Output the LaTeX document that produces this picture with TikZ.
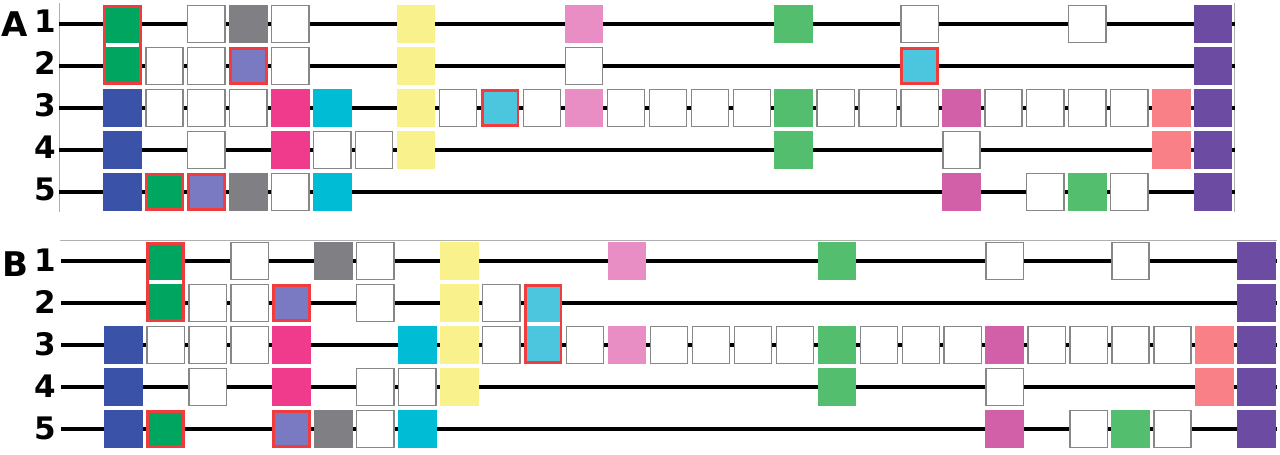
\documentclass[tikz,border=0pt]{standalone}
\usepackage{fontspec}
\setmainfont{DejaVu Sans}
\usetikzlibrary{fit}
\definecolor{cgrnR}{RGB}{0,166,96}
\definecolor{cgrnL}{RGB}{82,190,110}
\definecolor{cgray}{RGB}{128,128,132}
\definecolor{cslate}{RGB}{122,122,194}
\definecolor{cblue}{RGB}{58,82,168}
\definecolor{cmag}{RGB}{240,58,140}
\definecolor{ccyan}{RGB}{0,188,212}
\definecolor{ccyanR}{RGB}{76,198,222}
\definecolor{cyel}{RGB}{249,242,140}
\definecolor{cpink}{RGB}{232,142,196}
\definecolor{corch}{RGB}{210,96,168}
\definecolor{csal}{RGB}{250,128,136}
\definecolor{cpur}{RGB}{108,76,162}
\definecolor{redb}{RGB}{240,60,60}
\definecolor{boxgray}{RGB}{135,135,135}
\definecolor{framegray}{RGB}{175,175,175}
\begin{document}
\begin{tikzpicture}[x=1pt,y=-1pt,
  rowline/.style={line width=3.4pt, black},
  frameline/.style={line width=1pt, framegray},
  base/.style={rectangle, inner sep=0pt, outer sep=0pt},
  wbox/.style={base, minimum width=37.2pt, minimum height=37.2pt, fill=white, draw=boxgray, line width=1.3pt},
  cbox/.style={base, minimum width=38.5pt, minimum height=38.5pt},
  rbox/.style={base, minimum width=35.7pt, minimum height=35.7pt, draw=redb, line width=2.8pt},
  rframe/.style={base, draw=redb, line width=2.8pt, inner sep=-1.4pt},
  lbl/.style={font=\fontsize{31}{31}\selectfont\bfseries, anchor=east, inner sep=0pt},
  letter/.style={font=\fontsize{34}{34}\selectfont\bfseries, inner sep=0pt}
]
\useasboundingbox (0,0) rectangle (1280,455);

% ---------------- Panel A ----------------
\coordinate (Afl1) at (59.5,3); \coordinate (Afl2) at (59.5,212);
\coordinate (Afr1) at (1234.5,3); \coordinate (Afr2) at (1234.5,212);
\draw[frameline] (Afl1) -- (Afl2);
\draw[frameline] (Afr1) -- (Afr2);
\foreach \r in {1,...,5}{
  \coordinate (As\r) at (59,{24+42*(\r-1)});
  \coordinate (Ae\r) at (1235,{24+42*(\r-1)});
  \draw[rowline] (As\r) -- (Ae\r);
  \node[lbl] (Al\r) at (56.5,{21+42*(\r-1)}) {\r};
}
\node[letter] (Alet) at (15,24) {A};

\foreach \r/\c in {1/2,1/4,1/19,1/23,
  2/1,2/2,2/4,2/11,
  3/1,3/2,3/3,3/8,3/10,3/12,3/13,3/14,3/15,3/17,3/18,3/19,3/21,3/22,3/23,3/24,
  4/2,4/5,4/6,4/20,
  5/4,5/22,5/24}
  \node[wbox] (A-\r-\c) at ({122.5+41.95*\c},{24+42*(\r-1)}) {};

\foreach \r/\c/\col in {1/0/cgrnR,2/0/cgrnR,
  1/3/cgray,1/7/cyel,1/11/cpink,1/16/cgrnL,1/26/cpur,
  2/7/cyel,2/26/cpur,
  3/0/cblue,3/4/cmag,3/5/ccyan,3/7/cyel,3/11/cpink,3/16/cgrnL,3/20/corch,3/25/csal,3/26/cpur,
  4/0/cblue,4/4/cmag,4/7/cyel,4/16/cgrnL,4/25/csal,4/26/cpur,
  5/0/cblue,5/3/cgray,5/5/ccyan,5/20/corch,5/23/cgrnL,5/26/cpur}
  \node[cbox, fill=\col] (A-\r-\c) at ({122.5+41.95*\c},{24+42*(\r-1)}) {};

\foreach \r/\c/\col in {2/3/cslate,2/19/ccyanR,3/9/ccyanR,5/1/cgrnR,5/2/cslate}
  \node[rbox, fill=\col] (A-\r-\c) at ({122.5+41.95*\c},{24+42*(\r-1)}) {};

\node[rframe, fit=(A-1-0)(A-2-0)] (Am1) {};

% ---------------- Panel B ----------------
\coordinate (Bft1) at (60,240); \coordinate (Bft2) at (1277,240);
\draw[frameline] (Bft1) -- (Bft2);
\foreach \r in {1,...,5}{
  \coordinate (Bs\r) at (61,{261+42*(\r-1)});
  \coordinate (Be\r) at (1277,{261+42*(\r-1)});
  \draw[rowline] (Bs\r) -- (Be\r);
  \node[lbl] (Bl\r) at (56.5,{260+42*(\r-1)}) {\r};
}
\node[letter] (Blet) at (15,264) {B};

\foreach \r/\c in {1/3,1/6,1/21,1/24,
  2/2,2/3,2/6,2/9,
  3/1,3/2,3/3,3/9,3/11,3/13,3/14,3/15,3/16,3/18,3/19,3/20,3/22,3/23,3/24,3/25,
  4/2,4/6,4/7,4/21,
  5/6,5/23,5/25}
  \node[wbox] (B-\r-\c) at ({123.7+41.95*\c},{261+42*(\r-1)}) {};

\foreach \r/\c/\col in {1/1/cgrnR,2/1/cgrnR,2/10/ccyanR,3/10/ccyanR,
  1/5/cgray,1/8/cyel,1/12/cpink,1/17/cgrnL,1/27/cpur,
  2/8/cyel,2/27/cpur,
  3/0/cblue,3/4/cmag,3/7/ccyan,3/8/cyel,3/12/cpink,3/17/cgrnL,3/21/corch,3/26/csal,3/27/cpur,
  4/0/cblue,4/4/cmag,4/8/cyel,4/17/cgrnL,4/26/csal,4/27/cpur,
  5/0/cblue,5/5/cgray,5/7/ccyan,5/21/corch,5/24/cgrnL,5/27/cpur}
  \node[cbox, fill=\col] (B-\r-\c) at ({123.7+41.95*\c},{261+42*(\r-1)}) {};

\foreach \r/\c/\col in {2/4/cslate,5/1/cgrnR,5/4/cslate}
  \node[rbox, fill=\col] (B-\r-\c) at ({123.7+41.95*\c},{261+42*(\r-1)}) {};

\node[rframe, fit=(B-1-1)(B-2-1)] (Bm1) {};
\node[rframe, fit=(B-2-10)(B-3-10)] (Bm2) {};
\end{tikzpicture}
\end{document}
